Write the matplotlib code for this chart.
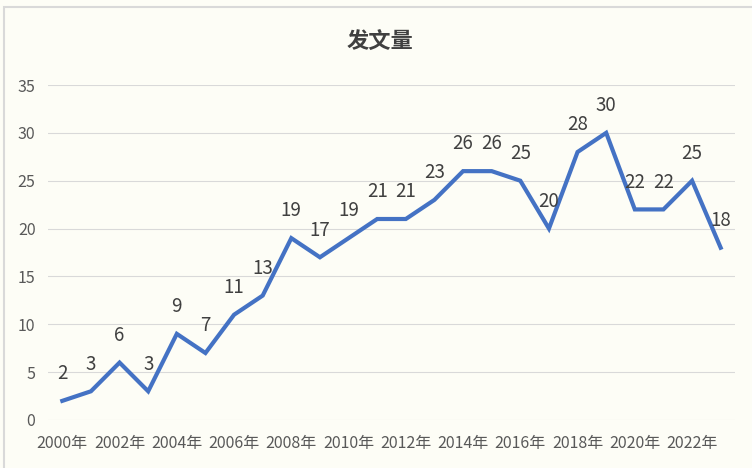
import numpy as np
import matplotlib
matplotlib.use("Agg")
from matplotlib import pyplot as plt
from matplotlib.patches import Rectangle

plt.rcParams['font.family'] = ['Noto Sans CJK SC', 'DejaVu Sans']

years = [str(y) + "年" for y in range(2000, 2024)]
counts = [2, 3, 6, 3, 9, 7, 11, 13, 19, 17, 19, 21, 21, 23, 26, 26, 25, 20, 28, 30, 22, 22, 25, 18]
yticks = [0, 5, 10, 15, 20, 25, 30, 35]
title = "发文量"

bg = "#FDFDF6"
fig = plt.figure(figsize=(7.52, 4.68), dpi=100, facecolor=bg)
# chart border (top/left edges visible)
fig.patches.append(Rectangle((4/752, -0.05), 1.1, 1 - 7/468 + 0.05, transform=fig.transFigure,
                             fill=False, edgecolor="#D9D9D9", linewidth=1.5))

ax = fig.add_axes([48/752, 1 - 420/468, 687/752, 335/468])
ax.set_facecolor(bg)
x = np.arange(len(counts))
ax.plot(x, counts, color="#4472C4", linewidth=3, solid_joinstyle="miter", zorder=3)

for xi, v in zip(x, counts):
    ax.annotate(str(v), (xi, v), xytext=(0, 12), textcoords="offset points",
                ha="center", va="bottom", fontsize=13.5, color="#404040")

ax.set_xlim(-0.5, len(counts) - 0.5)
ax.set_ylim(0, 35)
ax.set_yticks(yticks)
ax.set_xticks(x[::2])
ax.set_xticklabels(years[::2])
ax.tick_params(axis="both", length=0, labelsize=11.5, labelcolor="#595959")
ax.tick_params(axis="y", pad=9)
ax.tick_params(axis="x", pad=11)
ax.grid(axis="y", color="#D9D9D9", linewidth=0.8)
ax.set_axisbelow(True)
for s in ax.spines.values():
    s.set_visible(False)

fig.text(380/752, 1 - 42/468, title, ha="center", va="center", fontsize=16,
         fontweight="bold", color="#404040")

fig.savefig("out.png", dpi=100, facecolor=bg)
